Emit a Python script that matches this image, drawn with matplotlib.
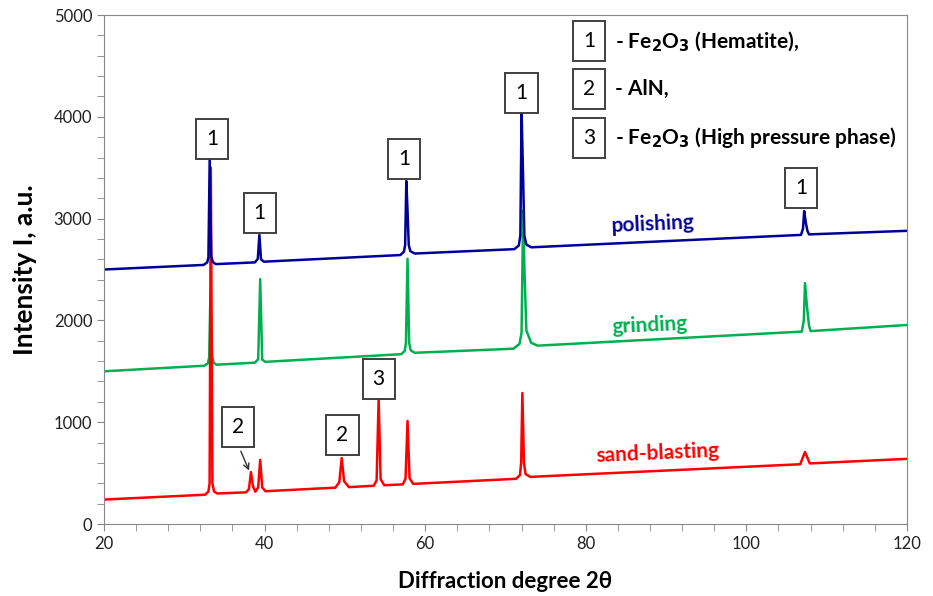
import matplotlib
matplotlib.use('Agg')
import matplotlib.pyplot as plt
from matplotlib.ticker import MultipleLocator

plt.rcParams['font.family'] = ['Lato', 'DejaVu Sans']

# XRD patterns (2theta, intensity)
pol_x = [20, 32.4, 32.85, 33.0, 33.16, 33.35, 33.55, 33.9, 38.8, 39.15, 39.35, 39.55, 39.9,
         56.9, 57.35, 57.5, 57.65, 57.8, 57.95, 58.15, 58.7,
         71.1, 71.65, 71.85, 72.0, 72.15, 72.35, 72.6, 73.2,
         106.8, 107.05, 107.2, 107.4, 107.6, 107.8, 120]
pol_y = [2500, 2545, 2570, 2620, 3595, 2630, 2575, 2553, 2570, 2605, 2840, 2600, 2577,
         2642, 2675, 2740, 3370, 3075, 2740, 2680, 2657,
         2700, 2735, 2830, 4070, 3555, 2830, 2745, 2718,
         2840, 2900, 3075, 2960, 2880, 2845, 2880]

gri_x = [20, 32.5, 32.95, 33.1, 33.25, 33.45, 33.65, 34.0, 38.8, 39.2, 39.45, 39.7, 40.1,
         57.0, 57.45, 57.6, 57.8, 58.0, 58.2, 58.7,
         71.0, 71.75, 72.0, 72.2, 72.35, 72.6, 73.2, 74.0,
         106.9, 107.15, 107.3, 107.55, 107.8, 108.0, 120]
gri_y = [1500, 1555, 1580, 1640, 2270, 1650, 1585, 1565, 1585, 1620, 2405, 1615, 1593,
         1668, 1700, 1780, 2605, 1780, 1705, 1682,
         1722, 1770, 1880, 3080, 2525, 1900, 1780, 1752,
         1890, 2000, 2367, 2135, 1950, 1895, 1955]

snd_x = [20, 32.6, 33.0, 33.15, 33.3, 33.5, 33.7, 34.1, 37.7, 38.05, 38.3, 38.55, 38.85,
         39.2, 39.45, 39.7, 40.1, 48.8, 49.3, 49.6, 49.9, 50.5,
         53.6, 53.95, 54.2, 54.45, 54.9, 57.2, 57.55, 57.8, 58.05, 58.5,
         71.3, 71.8, 71.95, 72.1, 72.3, 72.5, 73.1, 106.7, 107.3, 107.9, 120]
snd_y = [240, 288, 320, 400, 3500, 400, 320, 300, 311, 345, 510, 370, 318,
         360, 630, 360, 322, 357, 410, 648, 420, 362,
         376, 430, 1228, 440, 381, 389, 445, 1012, 450, 394,
         444, 480, 600, 1287, 600, 490, 463, 587, 707, 595, 640]

# phase markers: label, x, y
marks = [('1', 33.45, 3780), ('1', 39.4, 3055), ('1', 57.4, 3590),
         ('1', 72.0, 4235), ('1', 106.8, 3300),
         ('2', 36.7, 955), ('2', 49.7, 875), ('3', 54.2, 1425)]
legend_items = [('1', r'- Fe$_\mathbf{2}$O$_\mathbf{3}$ (Hematite),', 4740),
                ('2', '- AlN,', 4270),
                ('3', r'- Fe$_\mathbf{2}$O$_\mathbf{3}$ (High pressure phase)', 3795)]

blue, green, red = '#000099', '#00B050', '#FF0000'

fig = plt.figure(figsize=(9.33, 5.96), dpi=100)
ax = fig.add_axes([0.1115, 0.1208, 0.8606, 0.854])

ax.plot(gri_x, gri_y, color=green, lw=1.8)
ax.plot(snd_x, snd_y, color=red, lw=1.8)
ax.plot(pol_x, pol_y, color=blue, lw=1.8)

box = dict(boxstyle='square,pad=0.48', fc='white', ec='#404040', lw=1.4)
for lab, x, y in marks:
    ax.text(x, y, lab, fontsize=15, ha='center', va='center', bbox=box)
ax.annotate('', xy=(38.2, 500), xytext=(36.9, 740),
            arrowprops=dict(arrowstyle='->', color='#333333', lw=1))

for lab, txt, y in legend_items:
    ax.text(80.4, y, lab, fontsize=15, ha='center', va='center', bbox=box)
    ax.text(83.6, y, txt, fontsize=15, fontweight='bold', ha='left', va='center')

ax.text(88.4, 2950, 'polishing', color=blue, fontsize=15, fontweight='bold',
        ha='center', va='center', rotation=2.5)
ax.text(88.0, 1955, 'grinding', color=green, fontsize=15, fontweight='bold',
        ha='center', va='center', rotation=2.5)
ax.text(89.0, 690, 'sand-blasting', color=red, fontsize=15, fontweight='bold',
        ha='center', va='center', rotation=2.5)

ax.set_xlim(20, 120)
ax.set_ylim(0, 5000)
ax.xaxis.set_major_locator(MultipleLocator(20))
ax.xaxis.set_minor_locator(MultipleLocator(4))
ax.yaxis.set_major_locator(MultipleLocator(1000))
ax.yaxis.set_minor_locator(MultipleLocator(200))
ax.tick_params(which='both', direction='out', length=5, color='#888888',
               labelsize=12, labelcolor='#222222')
for s in ax.spines.values():
    s.set_color('#888888')

ax.set_xlabel('Diffraction degree 2θ', fontsize=16, fontweight='bold', labelpad=14)
ax.set_ylabel('Intensity I, a.u.', fontsize=19, fontweight='bold', labelpad=12)

fig.savefig('out.png', dpi=100)
